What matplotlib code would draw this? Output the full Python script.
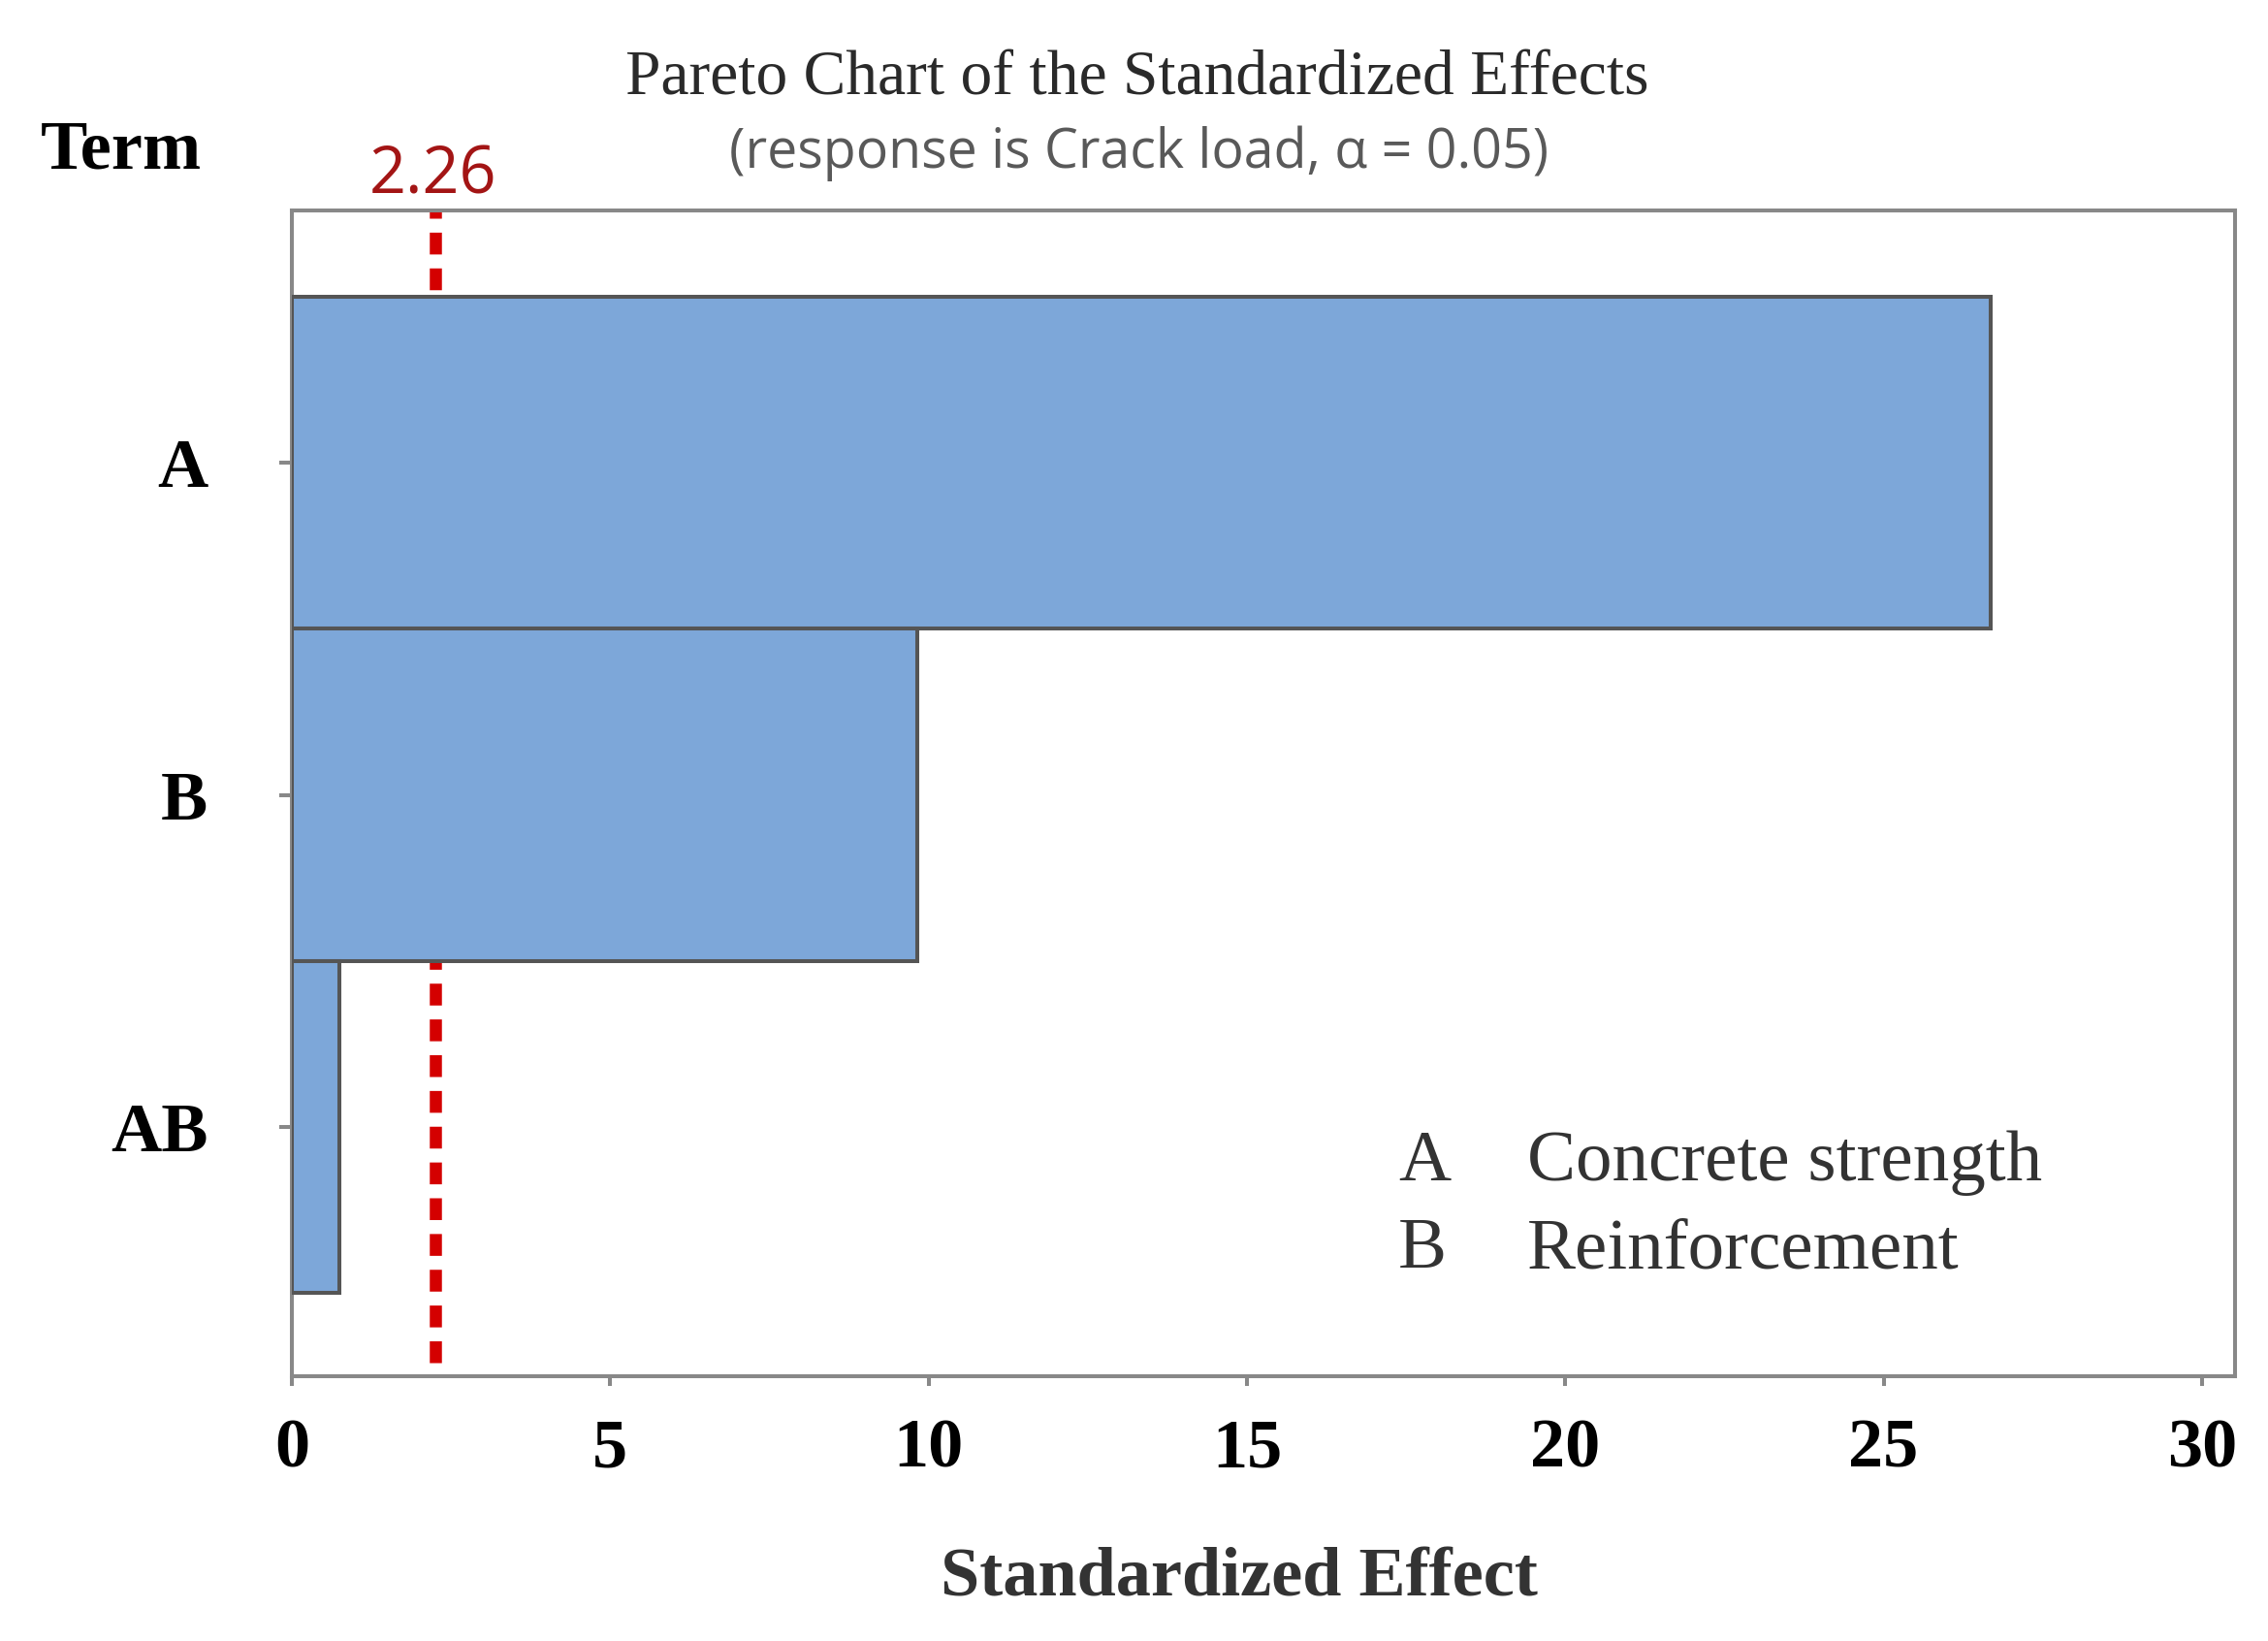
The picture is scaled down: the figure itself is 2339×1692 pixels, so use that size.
"""
Pareto chart of the standardized effects (response: crack load).
"""
import matplotlib
matplotlib.use("Agg")
import matplotlib.pyplot as plt

SERIF = "Liberation Serif"
SANS = ["Open Sans", "DejaVu Sans"]
BAR = "#7DA7D9"; EDGE = "#555555"; SPINE = "#888888"; RED = "#D40000"

# data
terms = ["A", "B", "AB"]
effects = [26.68, 9.83, 0.74]
crit = 2.26
xticks = [0, 5, 10, 15, 20, 25, 30]
legend_keys = ["A", "B"]
legend_names = ["Concrete strength", "Reinforcement"]

W, H, DPI = 2339, 1692, 200
fig = plt.figure(figsize=(W / DPI, H / DPI), dpi=DPI)
ax = fig.add_axes([301 / W, 1 - 1419 / H, (2305 - 301) / W, (1419 - 217) / H])

pos = list(range(len(terms)))
ax.barh(pos, effects, height=1.0, color=BAR, edgecolor=EDGE, lw=1.45, zorder=3)
ax.axvline(crit, ymin=0.012, ymax=1, color=RED, lw=4.5,
           ls=(0, (1.8, 1.15)), zorder=2)

ax.set_xlim(0, 30.52)
ax.set_ylim(2.75, -0.76)
ax.set_xticks(xticks)
ax.set_xticklabels([str(v) for v in xticks], family=SERIF,
                   fontweight="bold", fontsize=26)
ax.set_yticks(pos)
ax.set_yticklabels(terms, family=SERIF, fontweight="bold", fontsize=26)
ax.tick_params(axis="x", direction="out", length=3.6, width=1.45,
               color=SPINE, pad=12)
ax.tick_params(axis="y", direction="out", length=4.7, width=1.45,
               color=SPINE, pad=26.5)
for s in ax.spines.values():
    s.set_color(SPINE); s.set_linewidth(1.45)

# titles and labels
fig.text(1173 / W, 1 - 97 / H, "Pareto Chart of the Standardized Effects",
         family=SERIF, fontsize=23.6, color="#2a2a2a", ha="center", va="baseline")
fig.text(1175 / W, 1 - 173 / H, "(response is Crack load, \u03b1 = 0.05)",
         family=SANS, fontsize=20, color="#595959", ha="center", va="baseline")
fig.text(42 / W, 1 - 173 / H, "Term", family=SERIF, fontweight="bold",
         fontsize=26, color="black", ha="left", va="baseline")
fig.text(447 / W, 1 - 200 / H, f"{crit:.2f}", family=SANS, fontsize=24,
         color="#A31515", ha="center", va="baseline")
fig.text(1278 / W, 1 - 1645 / H, "Standardized Effect", family=SERIF,
         fontweight="bold", fontsize=26, color="#333333", ha="center",
         va="baseline")

# term legend
for i, (k, name) in enumerate(zip(legend_keys, legend_names)):
    yb = 1 - (1217 + 90 * i) / H
    fig.text(1442 / W, yb, k, family=SERIF, fontsize=27, color="#333333",
             ha="left", va="baseline")
    fig.text(1575 / W, yb, name, family=SERIF, fontsize=27, color="#333333",
             ha="left", va="baseline")

fig.savefig("out.png", dpi=DPI)
plt.close()
